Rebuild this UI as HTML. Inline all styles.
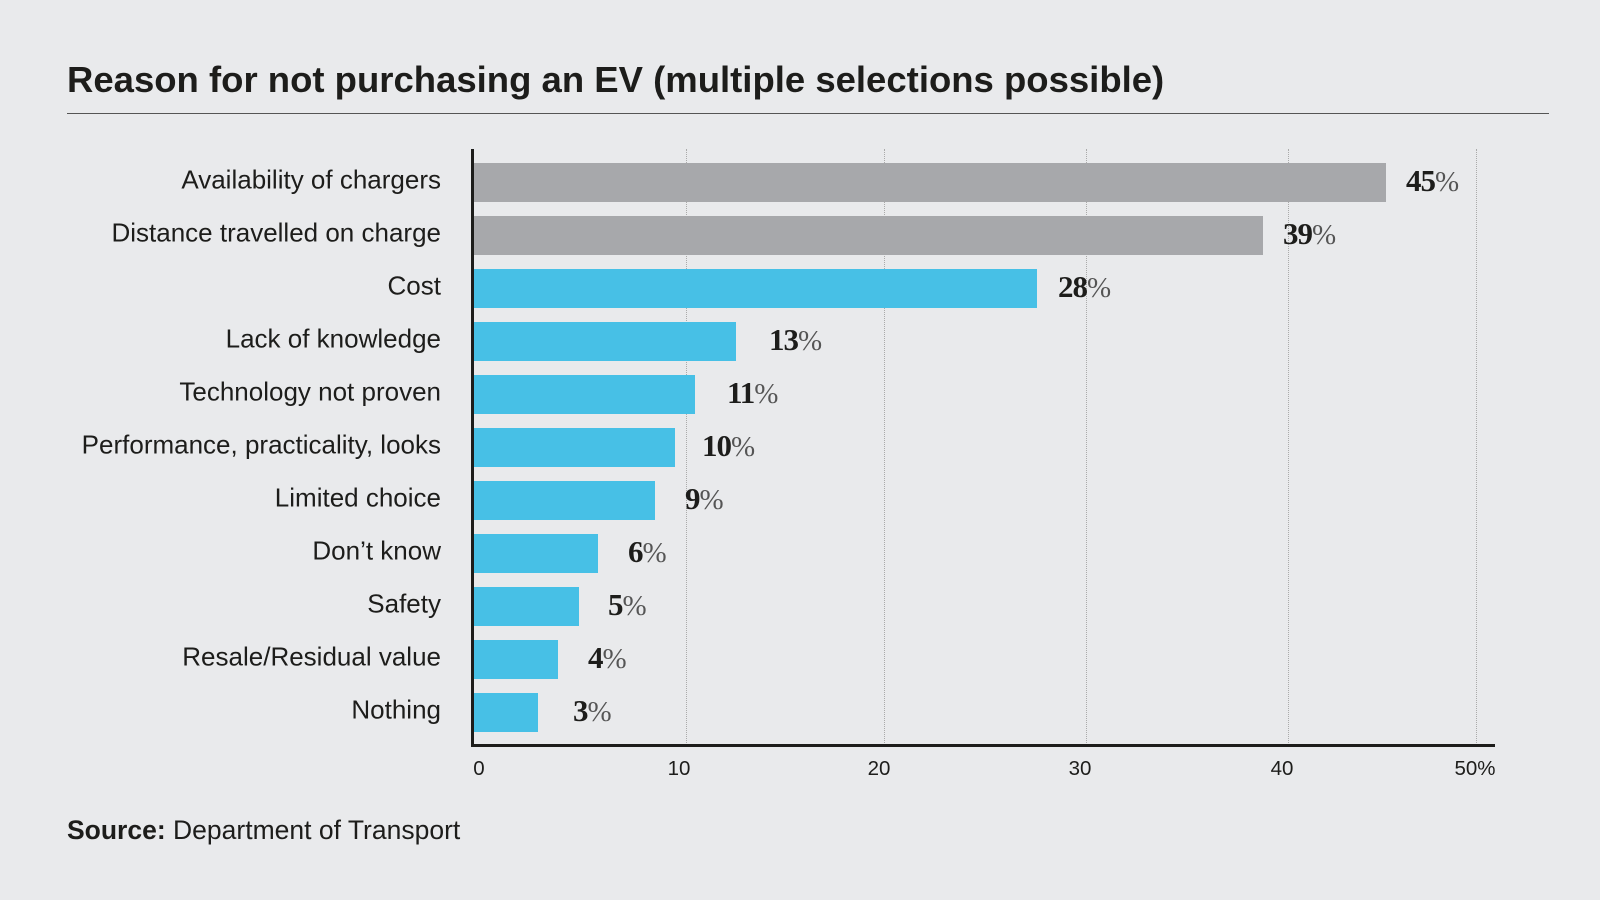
<!DOCTYPE html>
<html><head><meta charset="utf-8"><style>
body{margin:0;width:1600px;height:900px;background:#e9eaec;position:relative;overflow:hidden;font-family:"Liberation Sans",sans-serif;color:#1d1d1b}
.a{position:absolute}
.lab{position:absolute;right:1159px;font-size:26px;white-space:nowrap;transform:translateY(-50%)}
.bar{position:absolute;left:474px;height:39px}
.v{position:absolute;font-family:"Liberation Serif",serif;font-weight:bold;font-size:31px;transform:translateY(-50%);letter-spacing:-1px}
.v span{font-weight:normal;color:#555;font-size:29px}
.g{position:absolute;top:149px;height:596px;border-left:1px dotted #aaa}
.t{position:absolute;top:757px;font-size:20.5px;transform:translateX(-50%)}
</style></head><body>
<div class="a" style="left:67px;top:59px;font-size:36.5px;font-weight:bold">Reason for not purchasing an EV (multiple selections possible)</div>
<div class="a" style="left:67px;top:113px;width:1482px;border-top:1px solid #555"></div>
<div class="g" style="left:686px"></div><div class="g" style="left:884px"></div><div class="g" style="left:1086px"></div><div class="g" style="left:1288px"></div><div class="g" style="left:1476px"></div>
<div class="a" style="left:471px;top:149px;width:3px;height:598px;background:#1d1d1b"></div>
<div class="a" style="left:471px;top:744px;width:1024px;height:3px;background:#1d1d1b"></div>
<div class="t" style="left:479px">0</div><div class="t" style="left:679px">10</div><div class="t" style="left:879px">20</div><div class="t" style="left:1080px">30</div><div class="t" style="left:1282px">40</div><div class="t" style="left:1475px">50%</div>

<div class="lab" style="top:180px">Availability of chargers</div><div class="bar" style="top:163px;width:912px;background:#a7a8ab"></div><div class="v" style="left:1406px;top:181px">45<span>%</span></div>
<div class="lab" style="top:233px">Distance travelled on charge</div><div class="bar" style="top:216px;width:789px;background:#a7a8ab"></div><div class="v" style="left:1283px;top:234px">39<span>%</span></div>
<div class="lab" style="top:286px">Cost</div><div class="bar" style="top:269px;width:563px;background:#47c0e6"></div><div class="v" style="left:1058px;top:287px">28<span>%</span></div>
<div class="lab" style="top:339px">Lack of knowledge</div><div class="bar" style="top:322px;width:262px;background:#47c0e6"></div><div class="v" style="left:769px;top:340px">13<span>%</span></div>
<div class="lab" style="top:392px">Technology not proven</div><div class="bar" style="top:375px;width:221px;background:#47c0e6"></div><div class="v" style="left:727px;top:393px">11<span>%</span></div>
<div class="lab" style="top:445px">Performance, practicality, looks</div><div class="bar" style="top:428px;width:201px;background:#47c0e6"></div><div class="v" style="left:702px;top:446px">10<span>%</span></div>
<div class="lab" style="top:498px">Limited choice</div><div class="bar" style="top:481px;width:181px;background:#47c0e6"></div><div class="v" style="left:685px;top:499px">9<span>%</span></div>
<div class="lab" style="top:551px">Don’t know</div><div class="bar" style="top:534px;width:124px;background:#47c0e6"></div><div class="v" style="left:628px;top:552px">6<span>%</span></div>
<div class="lab" style="top:604px">Safety</div><div class="bar" style="top:587px;width:105px;background:#47c0e6"></div><div class="v" style="left:608px;top:605px">5<span>%</span></div>
<div class="lab" style="top:657px">Resale/Residual value</div><div class="bar" style="top:640px;width:84px;background:#47c0e6"></div><div class="v" style="left:588px;top:658px">4<span>%</span></div>
<div class="lab" style="top:710px">Nothing</div><div class="bar" style="top:693px;width:64px;background:#47c0e6"></div><div class="v" style="left:573px;top:711px">3<span>%</span></div>

<div class="a" style="left:67px;top:815px;font-size:26.5px"><b>Source:</b> Department of Transport</div>
</body></html>
